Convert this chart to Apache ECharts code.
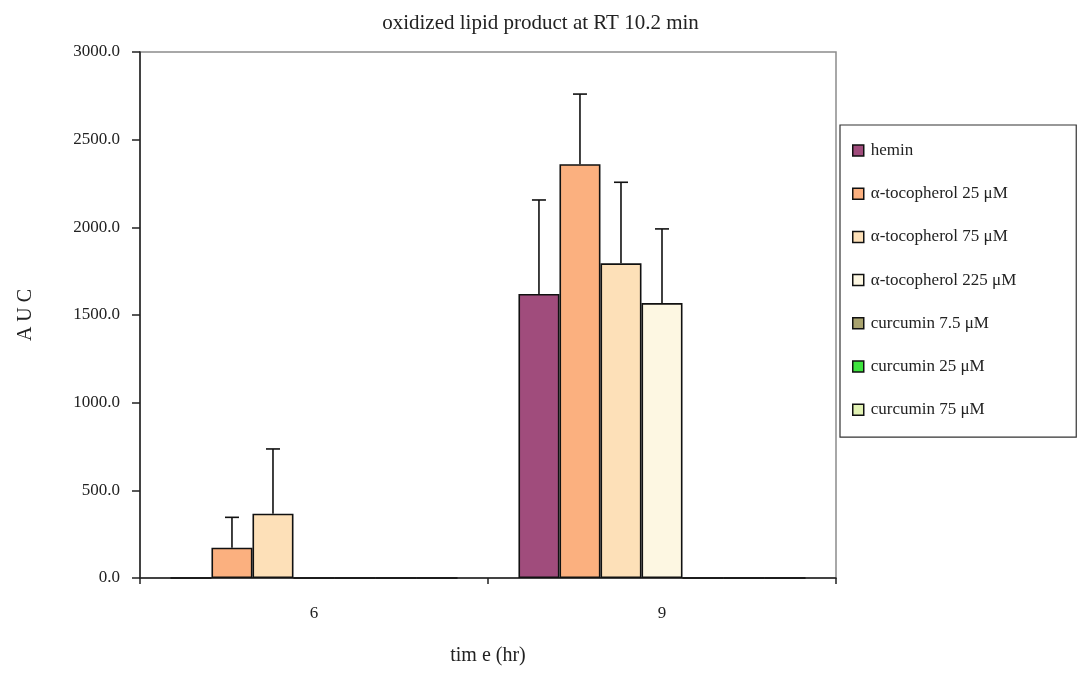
<!DOCTYPE html>
<html>
<head>
<meta charset="utf-8">
<script src="https://cdn.jsdelivr.net/npm/echarts@6/dist/echarts.min.js"></script>
<style>
  html, body { margin: 0; padding: 0; background: #fff; }
  #chart { width: 1081px; height: 675px; }
</style>
</head>
<body>
<div id="chart"></div>
<script>
// Time points (hr)
const categories = ['6', '9'];

// Treatment groups
const seriesNames = [
  'hemin',
  'α-tocopherol 25 μM',
  'α-tocopherol 75 μM',
  'α-tocopherol 225 μM',
  'curcumin 7.5 μM',
  'curcumin 25 μM',
  'curcumin 75 μM'
];

// Mean AUC per group at 6 h and 9 h
const hemin = [0, 1620];
const toco25 = [173, 2360];
const toco75 = [367, 1795];
const toco225 = [0, 1568];
const curc7_5 = [0, 0];
const curc25 = [0, 0];
const curc75 = [0, 0];

// Upper error (SD) per group
const heminErr = [0, 536];
const toco25Err = [173, 400];
const toco75Err = [369, 462];
const toco225Err = [0, 423];
const curc7_5Err = [0, 0];
const curc25Err = [0, 0];
const curc75Err = [0, 0];

// Y-axis ticks
const yTicks = { min: 0, max: 3000, step: 500 };

const values = [hemin, toco25, toco75, toco225, curc7_5, curc25, curc75];
const errors = [heminErr, toco25Err, toco75Err, toco225Err, curc7_5Err, curc25Err, curc75Err];
const colors = ['#a04c7c', '#fbb07f', '#fde0b8', '#fdf7e2', '#a9a36e', '#3ee43e', '#e2f2b4'];

const FONT = '"Liberation Serif", "DejaVu Serif", serif';
const GAP = 0.175;
const N = seriesNames.length;

const barSeries = seriesNames.map((name, i) => ({
  name: name,
  type: 'bar',
  data: values[i],
  barGap: '0%',
  barCategoryGap: (GAP * 100) + '%',
  itemStyle: { color: colors[i], borderColor: '#111', borderWidth: 1.6 },
  emphasis: { disabled: true },
  z: 2
}));

// Upward error whiskers, placed with the axis scale at each bar's slot
const errSeries = seriesNames.map((name, i) => ({
  name: name + ' err',
  type: 'custom',
  z: 1,
  silent: true,
  data: values[i].map((v, j) => [j, v, v + errors[i][j]]),
  renderItem: function (params, api) {
    const cat = api.value(0);
    const lo = api.value(1);
    const hi = api.value(2);
    if (hi <= lo) return null;
    const band = api.size([1, 0])[0];
    const bw = band * (1 - GAP) / N;
    const c = api.coord([cat, lo]);
    const x = c[0] + (i - (N - 1) / 2) * bw;
    const yLo = c[1];
    const yHi = api.coord([cat, hi])[1];
    const cap = 7;
    const style = { stroke: '#111', lineWidth: 1.6 };
    return {
      type: 'group',
      children: [
        { type: 'line', shape: { x1: x, y1: yLo, x2: x, y2: yHi }, style: style },
        { type: 'line', shape: { x1: x - cap, y1: yHi, x2: x + cap, y2: yHi }, style: style }
      ]
    };
  }
}));

const chart = echarts.init(document.getElementById('chart'), null, { renderer: 'canvas' });
chart.setOption({
  animation: false,
  backgroundColor: '#fff',
  title: {
    text: 'oxidized lipid product at RT 10.2 min',
    left: 'center',
    top: 8,
    textStyle: { fontFamily: FONT, fontSize: 21, fontWeight: 'normal', color: '#222' }
  },
  grid: {
    left: 140, right: 245, top: 52, bottom: 97,
    show: true, borderColor: '#8c8c8c', borderWidth: 1.5, backgroundColor: 'transparent'
  },
  legend: {
    orient: 'vertical',
    left: 840, top: 125,
    width: 238,
    padding: [17, 60, 19, 12],
    icon: 'rect',
    itemWidth: 11, itemHeight: 11, itemGap: 26.2,
    backgroundColor: '#fff',
    borderColor: '#333', borderWidth: 1.2,
    data: seriesNames,
    itemStyle: { borderColor: '#111', borderWidth: 1.5 },
    textStyle: { fontFamily: FONT, fontSize: 17, color: '#222', padding: [0, 0, 0, 2] },
    selectedMode: false
  },
  xAxis: {
    type: 'category',
    data: categories,
    name: 'tim e (hr)',
    nameLocation: 'middle',
    nameGap: 68,
    nameTextStyle: { fontFamily: FONT, fontSize: 20, color: '#222' },
    axisLine: { show: true, lineStyle: { color: '#222', width: 1.5 } },
    axisTick: { show: true, length: 6, alignWithLabel: false, lineStyle: { color: '#222', width: 1.5 } },
    axisLabel: { fontFamily: FONT, fontSize: 17, color: '#222', margin: 27 },
    splitLine: { show: false }
  },
  yAxis: {
    type: 'value',
    min: yTicks.min, max: yTicks.max, interval: yTicks.step,
    name: 'A U C',
    nameLocation: 'middle',
    nameRotate: 90,
    nameGap: 104,
    nameTextStyle: { fontFamily: FONT, fontSize: 20, color: '#222' },
    axisLine: { show: true, lineStyle: { color: '#222', width: 1.5 } },
    axisTick: { show: true, length: 8, lineStyle: { color: '#222', width: 1.5 } },
    axisLabel: {
      fontFamily: FONT, fontSize: 17, color: '#222', margin: 20,
      formatter: v => v.toFixed(1)
    },
    splitLine: { show: false }
  },
  series: barSeries.concat(errSeries)
});
</script>
</body>
</html>
